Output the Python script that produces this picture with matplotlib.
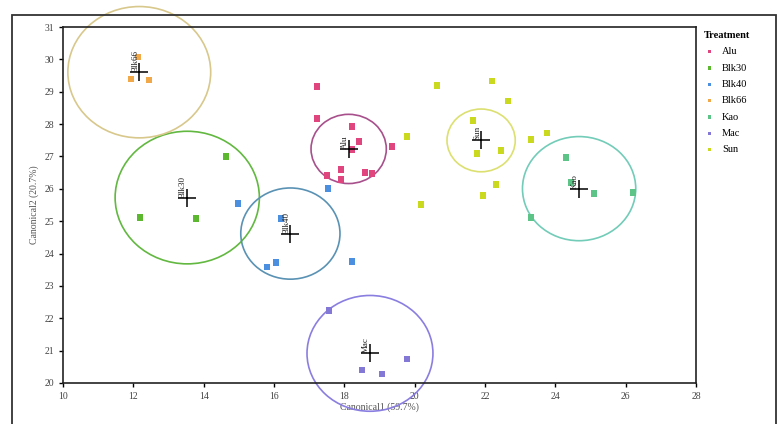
#!/usr/bin/env python

import numpy as np
import matplotlib.pyplot as plt
from matplotlib.patches import Circle, Rectangle


"""canonical plot of the treatments, with the means (+) and their confidence circles"""

treatments = ['Alu', 'Blk30', 'Blk40', 'Blk66', 'Kao', 'Mac', 'Sun']

alu_x = [17.22, 17.22, 18.22, 18.42, 19.35, 17.51, 17.90, 17.90, 18.59, 18.79, 18.22]
alu_y = [29.17, 28.18, 27.93, 27.47, 27.31, 26.41, 26.60, 26.29, 26.51, 26.48, 27.22]

blk30_x = [14.63, 12.19, 13.78]
blk30_y = [27.00, 25.11, 25.08]

blk40_x = [14.98, 16.20, 15.80, 16.06, 18.22, 17.53]
blk40_y = [25.55, 25.08, 23.59, 23.72, 23.75, 26.01]

blk66_x = [12.13, 11.93, 12.45]
blk66_y = [30.07, 29.39, 29.36]

kao_x = [24.30, 24.44, 25.10, 26.21, 23.31]
kao_y = [26.97, 26.20, 25.86, 25.89, 25.11]

mac_x = [17.56, 18.50, 19.07, 19.78]
mac_y = [22.23, 20.40, 20.28, 20.74]

sun_x = [20.63, 22.20, 22.65, 19.78, 21.66, 21.77, 22.45, 23.31, 23.76, 22.31, 21.94, 20.18]
sun_y = [29.20, 29.33, 28.71, 27.62, 28.12, 27.10, 27.19, 27.53, 27.72, 26.14, 25.79, 25.52]

# radius of the confidence circles
radii = [1.07, 2.05, 1.41, 2.03, 1.61, 1.79, 0.97]

x_ticks = [10, 12, 14, 16, 18, 20, 22, 24, 26, 28]
y_ticks = [20, 21, 22, 23, 24, 25, 26, 27, 28, 29, 30, 31]

point_colors = ['#e0457e', '#5cb82e', '#4a8fe0', '#f0a848', '#5cc486', '#8478d6', '#cad81e']
circle_colors = ['#a8508c', '#62b840', '#5a92b4', '#d8c88c', '#72ccb8', '#8a7ee0', '#dce070']


plt.rcParams['font.family'] = ['Liberation Serif', 'DejaVu Serif']


def plot_group(ax, xs, ys, radius, label, pcolor, ccolor):
    xs = np.array(xs)
    ys = np.array(ys)
    cx, cy = xs.mean(), ys.mean()

    circ = Circle((cx, cy), radius, fill=False, edgecolor=ccolor, linewidth=1.2, clip_on=False, zorder=2)
    ax.add_patch(circ)
    ax.scatter(xs, ys, marker='s', s=22, color=pcolor, edgecolors='none', zorder=3, label=label)
    ax.plot(cx, cy, marker='+', markersize=13, color='black', markeredgewidth=1.1, zorder=4)
    ax.text(cx, cy, label, rotation=90, ha='right', va='bottom', fontsize=6.5, color='#222222', zorder=5)


if __name__ == "__main__":

    fig = plt.figure(figsize=(7.77, 4.24), dpi=100)
    ax = fig.add_axes([0.081, 0.097, 0.815, 0.839])

    groups = [(alu_x, alu_y), (blk30_x, blk30_y), (blk40_x, blk40_y), (blk66_x, blk66_y),
              (kao_x, kao_y), (mac_x, mac_y), (sun_x, sun_y)]

    for i, (xs, ys) in enumerate(groups):
        plot_group(ax, xs, ys, radii[i], treatments[i], point_colors[i], circle_colors[i])

    ax.set_xlim(10, 28)
    ax.set_ylim(20, 31)
    ax.set_xticks(x_ticks)
    ax.set_yticks(y_ticks)
    ax.tick_params(labelsize=7, labelcolor='#444444', length=3, width=1)
    for s in ax.spines.values():
        s.set_linewidth(1.2)
        s.set_color('#222222')

    ax.set_xlabel('Canonical1 (59.7%)', fontsize=7, color='#555555', labelpad=1)
    ax.set_ylabel('Canonical2 (20.7%)', fontsize=7, color='#555555', labelpad=4)

    leg = ax.legend(title='Treatment', loc='upper left', bbox_to_anchor=(1.0, 1.01),
                    frameon=False, fontsize=7.5, title_fontsize=7.5, markerscale=0.5,
                    handletextpad=0.6, labelspacing=0.68, borderaxespad=0.3, handlelength=1.2)
    leg.get_title().set_fontweight('bold')
    leg._legend_box.align = 'left'

    # outer frame of the scanned figure
    frame = Rectangle((12 / 777, -0.02), 764 / 777, 1 - 15 / 424 + 0.02, transform=fig.transFigure,
                      fill=False, edgecolor='#333333', linewidth=1.3, clip_on=False)
    fig.patches.append(frame)

    plt.savefig('out.png', dpi=100)
